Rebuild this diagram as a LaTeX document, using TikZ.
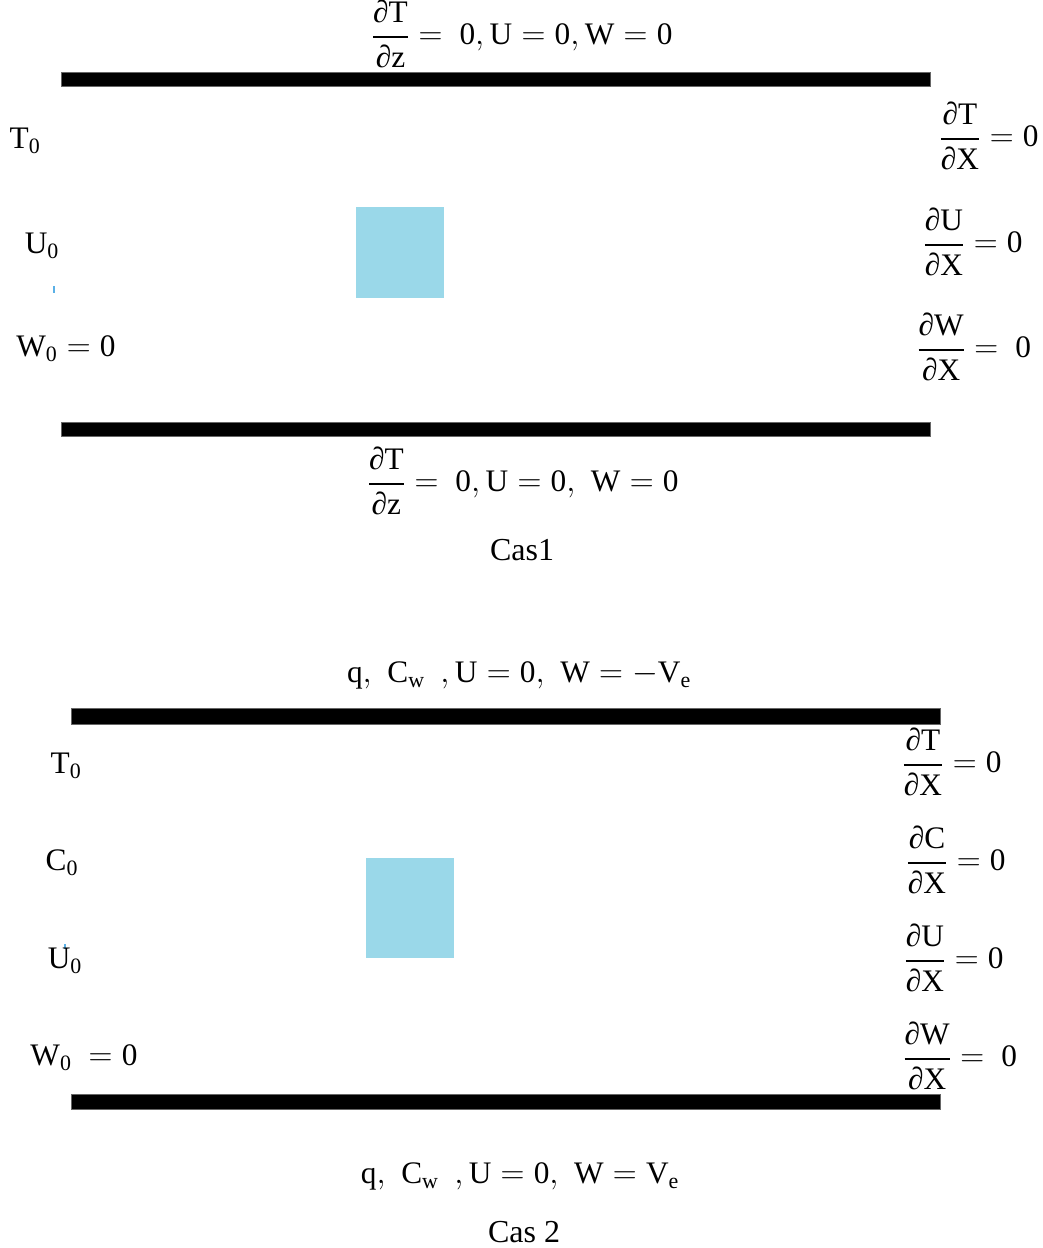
\documentclass[tikz,border=0pt]{standalone}
\usepackage{amsmath}
\usepackage{fontspec}
\setmainfont{Liberation Serif}
\definecolor{boxblue}{HTML}{9AD8E9}
\definecolor{tickblue}{HTML}{5AB0E6}
\newcommand\pdr[2]{\genfrac{}{}{1.4pt}{0}{\text{∂#1}}{\text{∂#2}}}
\begin{document}
\begin{tikzpicture}[x=0.75pt,y=-0.75pt,
  wall/.style={fill=black,draw=black!60,line width=0.5pt},
  obstacle/.style={fill=boxblue,draw=none},
  lbl/.style={inner sep=0pt,font=\fontsize{23.5}{26}\selectfont},
  caselbl/.style={inner sep=0pt,font=\fontsize{24}{28}\selectfont},
  tickmark/.style={draw=tickblue,line width=0.8pt}]
\useasboundingbox (0,0) rectangle (1042,1248);
% ---------- Case 1 ----------
\fill[wall] (61,72) rectangle (930,86);
\fill[wall] (61,422) rectangle (930,436);
\fill[obstacle] (356,207) rectangle (444,298);
\draw[tickmark] (54,286) -- (54,293);
\node[lbl] (c1top) at (522,34) {$\pdr{T}{z}=\ \mathrm{0,U}=\mathrm{0,W}=\mathrm{0}$};
\node[lbl] (c1T0) at (25,141) {$\mathrm{T_0}$};
\node[lbl] (c1U0) at (42,246) {$\mathrm{U_0}$};
\node[lbl] (c1W0) at (66,349) {$\mathrm{W_0}=\mathrm{0}$};
\node[lbl] (c1rT) at (989,136) {$\pdr{T}{X}=\mathrm{0}$};
\node[lbl] (c1rU) at (973,242) {$\pdr{U}{X}=\mathrm{0}$};
\node[lbl] (c1rW) at (974,347) {$\pdr{W}{X}=\ \mathrm{0}$};
\node[lbl] (c1bot) at (523,481) {$\pdr{T}{z}=\ \mathrm{0,U}=\mathrm{0,}\ \ \mathrm{W}=\mathrm{0}$};
\node[caselbl] (cas1) at (522,550) {Cas1};
% ---------- Case 2 ----------
\fill[wall] (71,708) rectangle (940,724);
\fill[wall] (71,1094) rectangle (940,1109);
\fill[obstacle] (366,858) rectangle (454,958);
\draw[tickmark] (65,944) -- (65,949);
\node[lbl] (c2top) at (519,675) {$\mathrm{q,}\ \ \mathrm{C_w}\ \ \mathrm{,U}=\mathrm{0,}\ \ \mathrm{W}=-\mathrm{V_e}$};
\node[lbl] (c2T0) at (66,766) {$\mathrm{T_0}$};
\node[lbl] (c2C0) at (62,863) {$\mathrm{C_0}$};
\node[lbl] (c2U0) at (65,961) {$\mathrm{U_0}$};
\node[lbl] (c2W0) at (84,1058) {$\mathrm{W_0}\ =\mathrm{0}$};
\node[lbl] (c2rT) at (952,762) {$\pdr{T}{X}=\mathrm{0}$};
\node[lbl] (c2rC) at (956,860) {$\pdr{C}{X}=\mathrm{0}$};
\node[lbl] (c2rU) at (954,958) {$\pdr{U}{X}=\mathrm{0}$};
\node[lbl] (c2rW) at (960,1056) {$\pdr{W}{X}=\ \mathrm{0}$};
\node[lbl] (c2bot) at (520,1176) {$\mathrm{q,}\ \ \mathrm{C_w}\ \ \mathrm{,U}=\mathrm{0,}\ \ \mathrm{W}=\mathrm{V_e}$};
\node[caselbl] (cas2) at (524,1232) {Cas 2};
\end{tikzpicture}
\end{document}
